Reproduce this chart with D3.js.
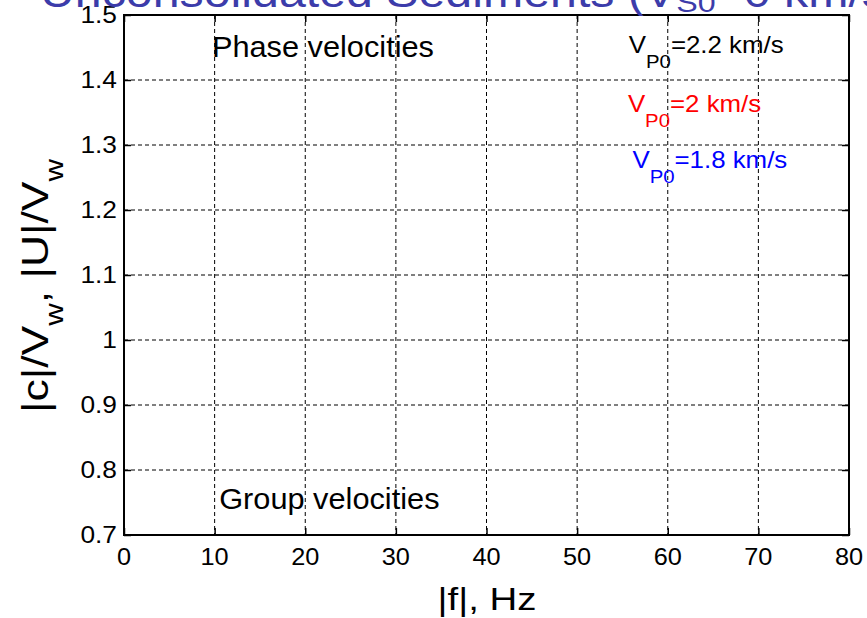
<!DOCTYPE html>
<html lang="en">
<head>
  <meta charset="UTF-8">
  <title>Phase and group velocities</title>
  <script src="https://d3js.org/d3.v7.min.js"></script>
  <style>
    body { margin: 0; background: #fff; }
    text { font-family: "Liberation Sans", Arial, sans-serif; }
  </style>
</head>
<body>
  <svg id="chart" width="867" height="618"></svg>

  <script>
    // Axis ticks
    const xTicks = [0, 10, 20, 30, 40, 50, 60, 70, 80];
    const yTicks = [0.7, 0.8, 0.9, 1, 1.1, 1.2, 1.3, 1.4, 1.5];

    // Text annotations (data coordinates)
    const noteLabels = ['Phase velocities', 'Group velocities'];
    const noteX = [9.7, 10.5];
    const noteY = [1.435, 0.74];

    // V_P0 legend entries
    const vpValues = ['2.2', '2', '1.8'];
    const vpColors = ['#000000', '#ff0000', '#0000ff'];
    const vpX = [55.7, 55.6, 56.1];
    const vpY = [1.4415, 1.351, 1.2646];

    const svg = d3.select('#chart');

    const plotL = 124, plotR = 849, plotT = 15, plotB = 535;
    const x = d3.scaleLinear().domain([0, 80]).range([plotL, plotR]);
    const y = d3.scaleLinear().domain([0.7, 1.5]).range([plotB, plotT]);

    // grid
    const grid = svg.append('g');
    grid.selectAll('line.vx')
      .data(xTicks.slice(1, -1))
      .enter().append('line')
      .attr('x1', d => x(d)).attr('x2', d => x(d))
      .attr('y1', plotT).attr('y2', plotB)
      .attr('stroke', '#000').attr('stroke-width', 1)
      .attr('stroke-dasharray', '4,3');
    grid.selectAll('line.hy')
      .data(yTicks.slice(1, -1))
      .enter().append('line')
      .attr('x1', plotL).attr('x2', plotR)
      .attr('y1', d => y(d)).attr('y2', d => y(d))
      .attr('stroke', '#000').attr('stroke-width', 1)
      .attr('stroke-dasharray', '4,3');

    // axes, ticks pointing inward on all four sides
    const tickLen = -7;
    function styleAxis(g) {
      g.select('.domain').remove();
      g.selectAll('.tick line').attr('stroke', '#000').attr('stroke-width', 1.5);
      g.selectAll('.tick text').remove();
    }
    svg.append('g').attr('transform', `translate(0,${plotB})`)
      .call(d3.axisBottom(x).tickValues(xTicks).tickSize(tickLen)).call(styleAxis);
    svg.append('g').attr('transform', `translate(0,${plotT})`)
      .call(d3.axisTop(x).tickValues(xTicks).tickSize(tickLen)).call(styleAxis);
    svg.append('g').attr('transform', `translate(${plotL},0)`)
      .call(d3.axisLeft(y).tickValues(yTicks).tickSize(tickLen)).call(styleAxis);
    svg.append('g').attr('transform', `translate(${plotR},0)`)
      .call(d3.axisRight(y).tickValues(yTicks).tickSize(tickLen)).call(styleAxis);

    svg.append('rect')
      .attr('x', plotL).attr('y', plotT)
      .attr('width', plotR - plotL).attr('height', plotB - plotT)
      .attr('fill', 'none').attr('stroke', '#000').attr('stroke-width', 2);

    // text helper: the original glyphs run wider than Liberation Sans
    function label(px, py, sx, rot) {
      return svg.append('text')
        .attr('transform', `translate(${px},${py})` + (rot ? ` rotate(${rot})` : '') + ` scale(${sx},1)`);
    }

    // tick labels
    yTicks.forEach(v => {
      label(117, y(v) + 8, 1.12).attr('text-anchor', 'end')
        .attr('font-size', 23.5).text(d3.format('~g')(v));
    });
    xTicks.forEach(v => {
      label(x(v), 565, 1.1).attr('text-anchor', 'middle')
        .attr('font-size', 23).text(v);
    });

    // axis labels
    label(487, 610, 1.2).attr('text-anchor', 'middle')
      .attr('font-size', 32).text('|f|, Hz');

    const yl = label(48, 286, 1.2, -90).attr('text-anchor', 'middle').attr('font-size', 37);
    yl.append('tspan').text('|c|/V');
    yl.append('tspan').attr('font-size', 26).attr('dy', 15).text('w');
    yl.append('tspan').attr('dy', -15).text(', |U|/V');
    yl.append('tspan').attr('font-size', 26).attr('dy', 15).text('w');

    // title (clipped at top of the figure)
    const tt = label(40, 7, 1.15).attr('font-size', 42).attr('fill', '#3c3caa');
    tt.append('tspan').text('Unconsolidated Sediments (V');
    tt.append('tspan').attr('font-size', 28).attr('dy', 5).text('S0');
    tt.append('tspan').attr('dy', -5).text('=0 km/s)');

    // annotations
    noteLabels.forEach((s, i) => {
      label(x(noteX[i]), y(noteY[i]), 1.06).attr('font-size', 29).text(s);
    });

    vpValues.forEach((v, i) => {
      const t = label(x(vpX[i]), y(vpY[i]), 1.1).attr('font-size', 23.5).attr('fill', vpColors[i]);
      t.append('tspan').text('V');
      t.append('tspan').attr('font-size', 18.5).attr('dy', 15).text('P0');
      t.append('tspan').attr('dy', -15).text(`=${v} km/s`);
    });
  </script>
</body>
</html>
